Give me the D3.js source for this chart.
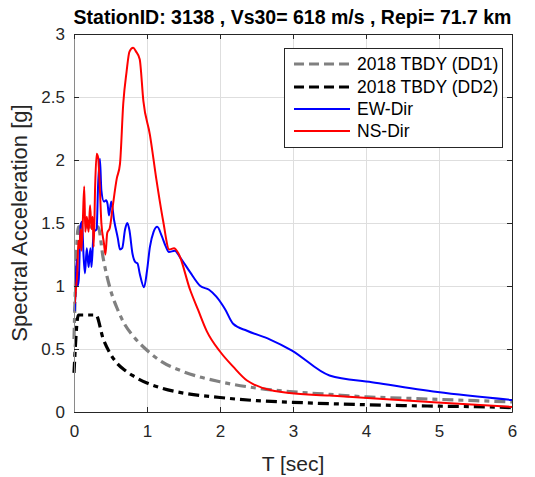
<!DOCTYPE html>
<html>
<head>
<meta charset="utf-8">
<script src="https://cdn.jsdelivr.net/npm/d3@7"></script>
<style>
body { margin: 0; background: #fff; }
svg { display: block; font-family: "Liberation Sans", Arial, sans-serif; }
</style>
</head>
<body>
<svg id="chart" width="535" height="477"></svg>
<script>
// chart values
var titleText = "StationID: 3138 , Vs30= 618 m/s , Repi= 71.7 km"
var xLabel = "T [sec]"
var yLabel = "Spectral Acceleration [g]"

var xTicks = [0, 1, 2, 3, 4, 5, 6]
var xTickLabels = ["0", "1", "2", "3", "4", "5", "6"]
var yTicks = [0, 0.5, 1, 1.5, 2, 2.5, 3]
var yTickLabels = ["0", "0.5", "1", "1.5", "2", "2.5", "3"]

var seriesNames = ["2018 TBDY (DD1)", "2018 TBDY (DD2)", "EW-Dir", "NS-Dir"]

// design spectra
var periodsDD = [0, 0.06, 0.33, 0.4, 0.5, 0.6, 0.7, 0.8, 1.0, 1.2, 1.5, 2, 2.5, 3, 3.5, 4, 4.5, 5, 5.5, 6]
var dd1 = [0.58, 1.47, 1.47, 1.22, 0.97, 0.81, 0.69, 0.61, 0.49, 0.40, 0.32, 0.24, 0.19, 0.16, 0.14, 0.12, 0.11, 0.10, 0.09, 0.08]
var periodsDD2 = [0, 0.06, 0.3, 0.4, 0.5, 0.6, 0.7, 0.8, 1.0, 1.2, 1.5, 2, 2.5, 3, 3.5, 4, 4.5, 5, 5.5, 6]
var dd2 = [0.31, 0.77, 0.77, 0.58, 0.46, 0.38, 0.33, 0.29, 0.23, 0.19, 0.15, 0.115, 0.09, 0.077, 0.066, 0.058, 0.051, 0.046, 0.042, 0.035]

// recorded spectra
var periodsEW = [0.01, 0.02, 0.035, 0.05, 0.065, 0.09, 0.11, 0.13, 0.15, 0.175, 0.2, 0.225, 0.24, 0.27, 0.31, 0.33, 0.355, 0.375, 0.41, 0.44, 0.46, 0.48, 0.51, 0.55, 0.6, 0.63, 0.66, 0.7, 0.73, 0.76, 0.8, 0.84, 0.87, 0.9, 0.96, 1.0, 1.04, 1.09, 1.14, 1.2, 1.26, 1.3, 1.38, 1.45, 1.59, 1.73, 1.85, 1.95, 2.07, 2.18, 2.37, 2.68, 2.98, 3.5, 4.08, 4.98, 6]
var ewDir = [0.80, 0.95, 1.21, 1.00, 1.05, 1.48, 1.51, 1.25, 1.10, 1.30, 1.15, 1.30, 1.15, 1.43, 1.45, 1.80, 2.01, 1.76, 1.67, 1.68, 1.65, 1.56, 1.67, 1.52, 1.38, 1.29, 1.30, 1.45, 1.50, 1.44, 1.26, 1.19, 1.18, 1.10, 0.99, 1.12, 1.31, 1.43, 1.47, 1.40, 1.31, 1.27, 1.28, 1.23, 1.11, 1.00, 0.97, 0.915, 0.815, 0.70, 0.645, 0.577, 0.49, 0.29, 0.237, 0.158, 0.095]

var periodsNS = [0.01, 0.03, 0.045, 0.06, 0.075, 0.09, 0.1, 0.12, 0.14, 0.155, 0.175, 0.2, 0.22, 0.24, 0.255, 0.27, 0.29, 0.31, 0.33, 0.35, 0.375, 0.41, 0.43, 0.455, 0.49, 0.53, 0.585, 0.63, 0.675, 0.72, 0.76, 0.81, 0.85, 0.9, 0.95, 1.04, 1.13, 1.22, 1.305, 1.37, 1.43, 1.59, 1.7, 1.82, 2.0, 2.18, 2.37, 2.46, 2.95, 3.5, 4.98, 6]
var nsDir = [0.86, 1.00, 1.10, 1.36, 1.30, 1.45, 1.28, 1.50, 1.79, 1.43, 1.55, 1.43, 1.64, 1.45, 1.55, 1.31, 1.80, 2.05, 2.02, 1.83, 1.50, 1.34, 1.25, 1.42, 1.46, 1.63, 1.85, 1.97, 2.45, 2.70, 2.86, 2.89, 2.86, 2.80, 2.47, 2.20, 1.84, 1.52, 1.29, 1.30, 1.26, 0.97, 0.81, 0.64, 0.48, 0.36, 0.25, 0.22, 0.15, 0.13, 0.075, 0.04]

// layout
var xleft = 74
var xright = 512
var ytop = 34
var ybottom = 412
var axisColor = "#262626"

var svg = d3.select("#chart")

var xScale = d3.scaleLinear()
    .domain([0, 6])
    .range([xleft, xright])

var yScale = d3.scaleLinear()
    .domain([0, 3])
    .range([ybottom, ytop])

var lineFunction = d3.line()
    .x(function(d) { return xScale(d[0]); })
    .y(function(d) { return yScale(d[1]); })
    .curve(d3.curveMonotoneX)

function zipSeries(periods, values) {
    return periods.map(function(p, i) { return [p, values[i]]; })
}

var seriesList = [
    {name: seriesNames[0], data: zipSeries(periodsDD, dd1), color: "#808080", width: 3.2, dash: "11,5,5,5"},
    {name: seriesNames[1], data: zipSeries(periodsDD2, dd2), color: "#000000", width: 3.2, dash: "11,5,5,5"},
    {name: seriesNames[2], data: zipSeries(periodsEW, ewDir), color: "#0000ff", width: 2, dash: null},
    {name: seriesNames[3], data: zipSeries(periodsNS, nsDir), color: "#ff0000", width: 2, dash: null}
]

function drawGrid() {
    var grid = svg.append("g").attr("id", "grid")
    grid.selectAll("line.gx")
	.data(xTicks.slice(1, -1))
	.enter()
	.append("line")
	.attr("x1", function(d) { return Math.round(xScale(d)) + 0.5; })
	.attr("x2", function(d) { return Math.round(xScale(d)) + 0.5; })
	.attr("y1", ytop)
	.attr("y2", ybottom)
	.attr("stroke", "#dedede")
    grid.selectAll("line.gy")
	.data(yTicks.slice(1, -1))
	.enter()
	.append("line")
	.attr("x1", xleft)
	.attr("x2", xright)
	.attr("y1", function(d) { return Math.round(yScale(d)) + 0.5; })
	.attr("y2", function(d) { return Math.round(yScale(d)) + 0.5; })
	.attr("stroke", "#dedede")
}

function drawAxes() {
    var xAxis = d3.axisBottom(xScale)
	.tickValues(xTicks)
	.tickFormat(function(d, i) { return xTickLabels[i]; })
	.tickSizeInner(-5)
	.tickSizeOuter(0)
	.tickPadding(13)
    var yAxis = d3.axisLeft(yScale)
	.tickValues(yTicks)
	.tickFormat(function(d, i) { return yTickLabels[i]; })
	.tickSizeInner(-5)
	.tickSizeOuter(0)
	.tickPadding(9)
    var xTop = d3.axisTop(xScale).tickValues(xTicks).tickSizeInner(-5).tickSizeOuter(0).tickFormat("")
    var yRight = d3.axisRight(yScale).tickValues(yTicks).tickSizeInner(-5).tickSizeOuter(0).tickFormat("")

    var gx = svg.append("g").attr("transform", "translate(0," + ybottom + ")").call(xAxis)
    var gy = svg.append("g").attr("transform", "translate(" + xleft + ",0)").call(yAxis)
    var gt = svg.append("g").attr("transform", "translate(0," + ytop + ")").call(xTop)
    var gr = svg.append("g").attr("transform", "translate(" + xright + ",0)").call(yRight)

    ;[gx, gy, gt, gr].map(function(g) {
	g.selectAll("path").attr("stroke", axisColor)
	g.selectAll("line").attr("stroke", axisColor)
	g.selectAll("text")
	    .attr("fill", axisColor)
	    .attr("font-size", "17px")
	    .attr("font-family", "Liberation Sans, Arial, sans-serif")
    })
    gy.select("path").attr("stroke", "#8a8a8a")
}

function drawSeries() {
    var lines = svg.append("g").attr("id", "series")
    seriesList.map(function(s) {
	lines.append("path")
	    .attr("d", lineFunction(s.data))
	    .attr("fill", "none")
	    .attr("stroke", s.color)
	    .attr("stroke-width", s.width)
	    .attr("stroke-dasharray", s.dash)
	    .attr("stroke-linejoin", "round")
    })
}

function drawLabels() {
    svg.append("text")
	.attr("x", (xleft + xright) / 2 - 0.5)
	.attr("y", 24)
	.attr("text-anchor", "middle")
	.attr("font-size", "19.5px")
	.attr("font-weight", "bold")
	.attr("fill", "#000")
	.text(titleText)

    svg.append("text")
	.attr("x", (xleft + xright) / 2)
	.attr("y", 471)
	.attr("text-anchor", "middle")
	.attr("font-size", "21px")
	.attr("fill", axisColor)
	.text(xLabel)

    svg.append("text")
	.attr("transform", "translate(27," + (ytop + ybottom) / 2 + ") rotate(-90)")
	.attr("text-anchor", "middle")
	.attr("font-size", "22px")
	.attr("fill", axisColor)
	.text(yLabel)
}

function drawLegend() {
    var lg = svg.append("g").attr("id", "legend")
    lg.append("rect")
	.attr("x", 284.5)
	.attr("y", 48.5)
	.attr("width", 218)
	.attr("height", 99)
	.attr("fill", "#fff")
	.attr("stroke", axisColor)

    var rowY = [64, 87, 109, 131]
    seriesList.map(function(s, i) {
	lg.append("line")
	    .attr("x1", 294)
	    .attr("x2", 350)
	    .attr("y1", rowY[i])
	    .attr("y2", rowY[i])
	    .attr("stroke", s.color)
	    .attr("stroke-width", s.width)
	    .attr("stroke-dasharray", s.dash ? "10,5" : null)
	lg.append("text")
	    .attr("x", 357)
	    .attr("y", rowY[i] + 6)
	    .attr("font-size", "17.5px")
	    .attr("fill", "#000")
	    .text(s.name)
    })
}

drawGrid()
drawSeries()
drawAxes()
drawLegend()
drawLabels()
</script>
</body>
</html>
